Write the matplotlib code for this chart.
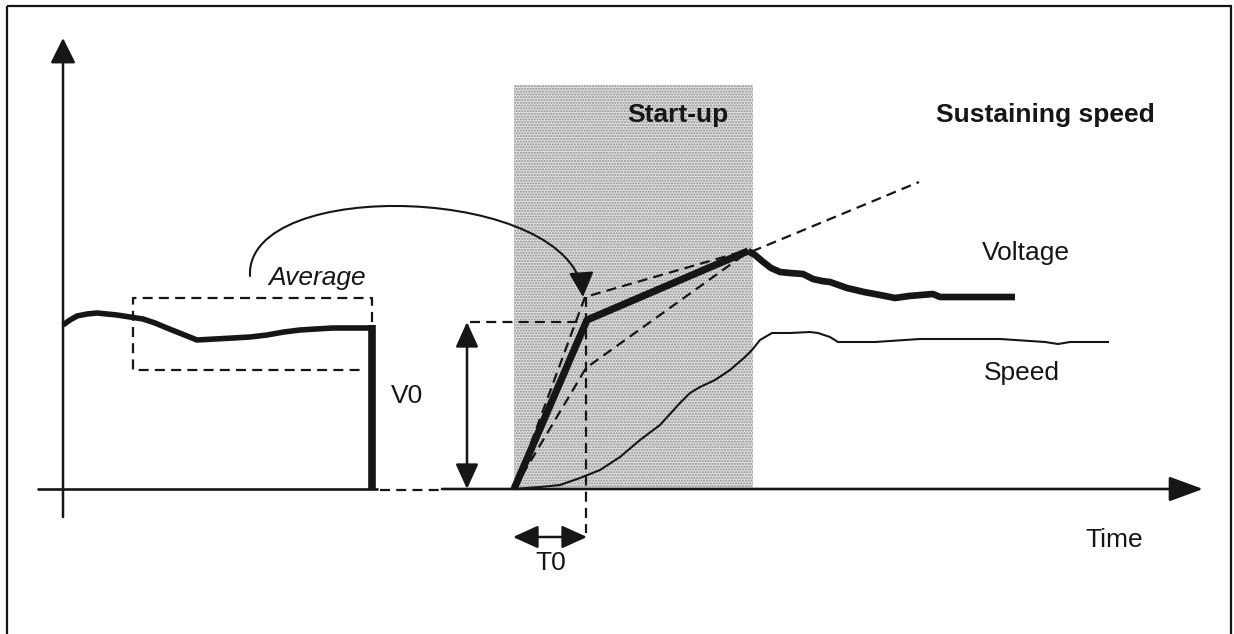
import matplotlib

matplotlib.use("Agg")
import matplotlib.pyplot as plt
from matplotlib.patches import Rectangle, FancyArrowPatch
from matplotlib.path import Path

plt.rcParams["font.family"] = ["Liberation Sans", "DejaVu Sans"]
plt.rcParams["hatch.linewidth"] = 1.0

# diagram coordinates (time to the right, level downwards as in the drawing)
volt_pre_t = [63, 70, 77, 87, 97, 107, 117, 130, 143, 155, 167, 182, 197, 215, 233, 250, 267,
              284, 300, 316, 333, 350, 372]
volt_pre_v = [325, 320, 316, 314, 313, 314, 315, 317, 319, 323, 328, 334, 340, 339, 338, 337,
              335, 332, 330, 329, 328, 328, 328]

volt_start_t = [514, 587, 748]
volt_start_v = [489, 320, 251]

volt_post_t = [748, 755, 762, 771, 780, 790, 803, 813, 822, 830, 847, 864, 880, 895, 909, 921,
               933, 940, 1015]
volt_post_v = [251, 255, 261, 268, 272, 273, 274, 279, 281, 282, 288, 292, 295, 298, 296, 295,
               294, 297, 297]

speed_t = [514, 540, 560, 580, 600, 620, 640, 660, 680, 690, 700, 715, 730, 745,
           752, 760, 772, 790, 810, 818, 830, 838, 875, 920, 1000, 1045, 1058, 1070, 1108]
speed_v = [489, 487, 485, 478, 470, 457, 440, 425, 403, 393, 387, 380, 370, 357,
           350, 340, 333, 333, 332, 333, 337, 342, 342, 339, 339, 342, 344, 342, 342]

upper_tan_t = [514, 585, 748]
upper_tan_v = [489, 297, 250]
lower_tan_t = [514, 586, 748]
lower_tan_v = [489, 368, 252]
ext_tan_t = [587, 919]
ext_tan_v = [320, 182]

avg_box_t = [372, 372, 133, 133, 365]
avg_box_v = [322, 298, 298, 370, 370]

t_zero = 514
t_knee = 586
v_zero = 489
v_level = 322
startup_span = (514, 753)
startup_top = 85

fig = plt.figure(figsize=(12.34, 6.34), dpi=100)
ax = fig.add_axes([0, 0, 1, 1])
ax.set_xlim(0, 1234)
ax.set_ylim(634, 0)
ax.axis("off")

ink = "#161616"
dash = (0, (4.5, 2.8))
dlw = 1.6

# frame
ax.add_patch(Rectangle((7, 6), 1224, 640, fill=False, lw=1.6, ec=ink, zorder=1))

# start-up zone
ax.add_patch(Rectangle((startup_span[0], startup_top), startup_span[1] - startup_span[0],
                       v_zero - startup_top, facecolor="#e0e0e0", edgecolor="#8e8e8e",
                       hatch="......", lw=0, zorder=0))

# axes
ax.annotate("", xy=(63, 38), xytext=(63, 517),
            arrowprops=dict(arrowstyle="-|>,head_length=1.1,head_width=0.55",
                            color=ink, lw=1.8, shrinkA=0, shrinkB=0, mutation_scale=14))
ax.plot([37, 378], [v_zero, v_zero], color=ink, lw=1.9, solid_capstyle="butt")
ax.plot([380, 442], [v_zero + 1, v_zero + 1], color=ink, lw=dlw, linestyle=dash)
ax.annotate("", xy=(1203, v_zero), xytext=(442, v_zero),
            arrowprops=dict(arrowstyle="-|>,head_length=1.5,head_width=0.55",
                            color=ink, lw=1.9, shrinkA=0, shrinkB=0, mutation_scale=14))

# dashed construction lines
ax.plot(avg_box_t, avg_box_v, color=ink, lw=dlw, linestyle=dash)
ax.plot([470, t_knee], [v_level, v_level], color=ink, lw=dlw, linestyle=dash, zorder=3)
ax.plot([t_knee, t_knee], [297, 533], color=ink, lw=dlw, linestyle=dash, zorder=3)
ax.plot(upper_tan_t, upper_tan_v, color=ink, lw=dlw, linestyle=dash, zorder=3)
ax.plot(lower_tan_t, lower_tan_v, color=ink, lw=dlw, linestyle=dash, zorder=3)
ax.plot(ext_tan_t, ext_tan_v, color=ink, lw=dlw, linestyle=dash, zorder=3)

# voltage
ax.plot(volt_pre_t, volt_pre_v, color=ink, lw=4.0, solid_capstyle="butt",
        solid_joinstyle="round", zorder=4)
ax.plot([372, 372], [325, v_zero], color=ink, lw=5.5, solid_capstyle="butt", zorder=4)
ax.plot(volt_start_t, volt_start_v, color=ink, lw=5.2, solid_capstyle="butt",
        solid_joinstyle="round", zorder=4)
ax.plot(volt_post_t, volt_post_v, color=ink, lw=4.8, solid_capstyle="butt",
        solid_joinstyle="round", zorder=4)

# speed
ax.plot(speed_t, speed_v, color=ink, lw=1.5, solid_joinstyle="round", zorder=4)

# V0 and T0 markers
ax.annotate("", xy=(467, v_level), xytext=(467, v_zero),
            arrowprops=dict(arrowstyle="<|-|>,head_length=1.1,head_width=0.5",
                            color=ink, lw=1.8, shrinkA=0, shrinkB=0, mutation_scale=14))
ax.annotate("", xy=(t_knee + 1, 537), xytext=(t_zero - 1, 537),
            arrowprops=dict(arrowstyle="<|-|>,head_length=1.1,head_width=0.5",
                            color=ink, lw=1.8, shrinkA=0, shrinkB=0, mutation_scale=14))

# curved "average" arrow
curve = Path([(250, 276), (245, 175), (575, 185), (583, 297)],
             [Path.MOVETO, Path.CURVE4, Path.CURVE4, Path.CURVE4])
ax.add_patch(FancyArrowPatch(path=curve, arrowstyle="-|>,head_length=1.1,head_width=0.55",
                             mutation_scale=14, color=ink, lw=1.5, zorder=5))

# labels
fs = 19
ax.text(678, 122, "Start-up", fontsize=fs, fontweight="bold", color=ink, ha="center")
ax.text(1045, 122, "Sustaining speed", fontsize=fs, fontweight="bold", color=ink, ha="center")
ax.text(982, 260, "Voltage", fontsize=fs, color=ink)
ax.text(984, 380, "Speed", fontsize=fs, color=ink)
ax.text(268, 285, "Average", fontsize=fs, fontstyle="italic", color=ink)
ax.text(391, 403, "V0", fontsize=fs, color=ink)
ax.text(1085, 547, "Time", fontsize=fs, color=ink)
ax.text(551, 570, "T0", fontsize=fs, color=ink, ha="center")

fig.savefig("out.png", dpi=100)
plt.close(fig)
